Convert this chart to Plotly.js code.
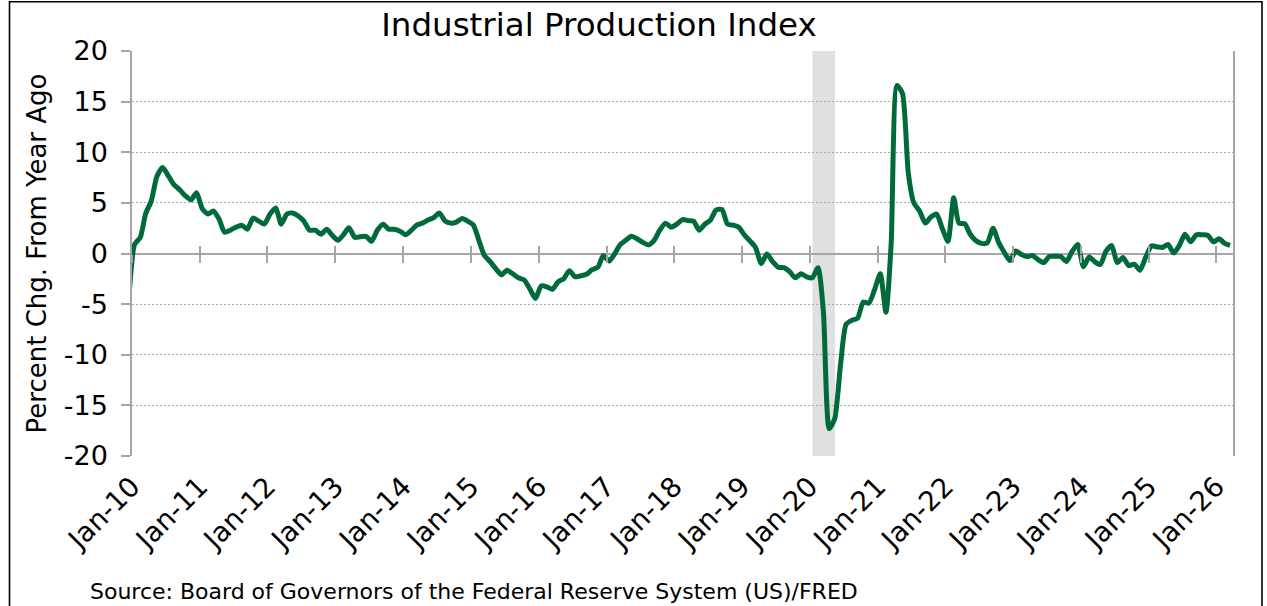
<!DOCTYPE html>
<html>
<head>
<meta charset="utf-8">
<script src="https://cdn.plot.ly/plotly-3.0.1.min.js"></script>
<style>
  html, body { margin: 0; padding: 0; background: #ffffff; }
  #chart { width: 1267px; height: 606px; }
</style>
</head>
<body>
<div id="chart"></div>
<script>
// ---- Data: Industrial Production Index, percent change from year ago (monthly) ----
const firstYear = 2009;      // first observation: Dec 2009 (clipped by the axis start)
const firstMonth = 12;
const yoyDec2009 = [-4.5];
const yoy2010 = [0.9, 1.6, 3.9, 5.2, 7.6, 8.5, 7.7, 6.8, 6.3, 5.7, 5.3, 6.0];
const yoy2011 = [4.4, 3.9, 4.2, 3.4, 2.1, 2.3, 2.6, 2.8, 2.4, 3.5, 3.2, 2.9];
const yoy2012 = [3.9, 4.5, 2.9, 3.9, 4.0, 3.7, 3.2, 2.3, 2.3, 1.9, 2.4, 1.8];
const yoy2013 = [1.3, 1.9, 2.55, 1.6, 1.65, 1.7, 1.2, 2.3, 2.9, 2.4, 2.4, 2.2];
const yoy2014 = [1.85, 2.3, 2.8, 3.0, 3.3, 3.55, 4.0, 3.2, 3.0, 3.1, 3.45, 3.2];
const yoy2015 = [2.8, 1.2, -0.2, -0.8, -1.5, -2.1, -1.65, -2.0, -2.4, -2.6, -3.5, -4.45];
const yoy2016 = [-3.2, -3.3, -3.55, -2.8, -2.5, -1.7, -2.3, -2.2, -2.05, -1.6, -1.35, -0.2];
const yoy2017 = [-0.75, 0.0, 0.85, 1.3, 1.7, 1.45, 1.1, 0.85, 1.3, 2.3, 3.0, 2.6];
const yoy2018 = [2.9, 3.35, 3.25, 3.2, 2.3, 2.9, 3.3, 4.3, 4.35, 2.9, 2.8, 2.6];
const yoy2019 = [1.8, 1.2, 0.6, -1.0, -0.05, -0.8, -1.35, -1.4, -1.8, -2.4, -2.0, -2.3];
const yoy2020 = [-2.4, -1.4, -5.8, -17.3, -16.3, -11.0, -7.0, -6.6, -6.4, -4.8, -4.9, -3.6];
const yoy2021 = [-2.0, -5.8, 1.0, 16.6, 15.8, 8.0, 5.0, 4.2, 3.0, 3.6, 3.9, 2.5];
const yoy2022 = [1.2, 5.5, 3.0, 2.95, 1.9, 1.25, 1.0, 1.05, 2.5, 1.1, 0.1, -0.7];
const yoy2023 = [0.26, -0.1, -0.3, -0.2, -0.6, -0.9, -0.3, -0.27, -0.3, -0.8, 0.2, 0.9];
const yoy2024 = [-1.3, -0.35, -0.8, -1.1, 0.2, 0.8, -0.9, -0.4, -1.2, -1.05, -1.65, -0.4];
const yoy2025 = [0.75, 0.65, 0.6, 0.9, 0.05, 0.8, 1.9, 1.15, 1.85, 1.85, 1.8, 1.15];
const yoy2026 = [1.45, 1.0, 0.8];

const tickYears  = [2010,2011,2012,2013,2014,2015,2016,2017,2018,2019,2020,2021,2022,2023,2024,2025,2026];
const tickLabels = ['Jan-10','Jan-11','Jan-12','Jan-13','Jan-14','Jan-15','Jan-16','Jan-17','Jan-18','Jan-19','Jan-20','Jan-21','Jan-22','Jan-23','Jan-24','Jan-25','Jan-26'];
const yTicks      = [-20, -15, -10, -5, 0, 5, 10, 15, 20];
const yTickLabels = ['-20', '-15', '-10', '-5', '0', '5', '10', '15', '20'];

const recessionStart = '2020-01-16';
const recessionEnd   = '2020-05-16';

const titleText  = 'Industrial Production Index';
const yTitleText = 'Percent Chg. From Year Ago';
const sourceText = 'Source: Board of Governors of the Federal Reserve System (US)/FRED';

// ---- Build series ----
const values = [].concat(yoyDec2009, yoy2010, yoy2011, yoy2012, yoy2013, yoy2014, yoy2015,
  yoy2016, yoy2017, yoy2018, yoy2019, yoy2020, yoy2021, yoy2022, yoy2023, yoy2024, yoy2025, yoy2026);
const pad = n => (n < 10 ? '0' : '') + n;
const dates = values.map((v, i) => {
  const k = (firstMonth - 1) + i;
  const yr = firstYear + Math.floor(k / 12);
  const mo = (k % 12) + 1;
  return yr + '-' + pad(mo) + '-15';
});
const tickVals = tickYears.map(y => y + '-01-01');
const xRange = ['2010-01-01', '2026-03-31'];

const FONT = 'DejaVu Sans, Verdana, sans-serif';
const GRID = '#a6a6a6';

const traces = [
  { x: dates, y: values, type: 'scatter', mode: 'lines',
    line: { color: '#006a3a', width: 5, shape: 'spline', smoothing: 0.6 },
    hoverinfo: 'x+y', showlegend: false },
  { x: [], y: [], xaxis: 'x2', yaxis: 'y', type: 'scatter', showlegend: false, hoverinfo: 'skip' },
  { x: [], y: [], xaxis: 'x3', yaxis: 'y', type: 'scatter', showlegend: false, hoverinfo: 'skip' }
];

const tickAxisBase = {
  type: 'date', range: xRange, overlaying: 'x', anchor: 'free', position: 0.5,
  tickmode: 'array', tickvals: tickVals, showticklabels: false,
  ticklen: 8, tickwidth: 1.5, tickcolor: GRID,
  showline: false, showgrid: false, zeroline: false, fixedrange: true
};

const layout = {
  width: 1267, height: 606,
  margin: { l: 132, r: 34, t: 51, b: 150, pad: 0 },
  paper_bgcolor: '#ffffff', plot_bgcolor: '#ffffff',
  font: { family: FONT, color: '#000000' },
  title: { text: titleText, font: { family: FONT, size: 32.5, color: '#000000' },
           xref: 'container', x: 599 / 1267, xanchor: 'center',
           yref: 'container', y: 1 - 25 / 606, yanchor: 'middle' },
  xaxis: {
    type: 'date', range: xRange, domain: [0, 1],
    tickmode: 'array', tickvals: tickVals, ticktext: tickLabels,
    tickangle: -45, ticks: '', ticklabelstandoff: 8, showgrid: false, showline: false, zeroline: false,
    tickfont: { family: FONT, size: 27.5, color: '#000000' }, automargin: false, fixedrange: true
  },
  xaxis2: Object.assign({}, tickAxisBase, { ticks: 'outside' }),
  xaxis3: Object.assign({}, tickAxisBase, { ticks: 'inside' }),
  yaxis: {
    range: [-20, 20], tickmode: 'array', tickvals: yTicks, ticktext: yTickLabels,
    ticks: 'outside', ticklen: 9, tickwidth: 1.5, tickcolor: GRID, ticklabelstandoff: 8,
    showline: true, linecolor: GRID, linewidth: 1.5, mirror: true,
    showgrid: true, gridcolor: '#a8a8a8', gridwidth: 1, griddash: '2px,2px',
    zeroline: true, zerolinecolor: GRID, zerolinewidth: 1.8,
    tickfont: { family: FONT, size: 27, color: '#000000' },
    title: { text: yTitleText, font: { family: FONT, size: 26, color: '#000000' }, standoff: 10 },
    automargin: false, fixedrange: true
  },
  shapes: [
    { type: 'rect', xref: 'x', yref: 'y', x0: recessionStart, x1: recessionEnd, y0: -20, y1: 20,
      fillcolor: '#e0e0e0', line: { width: 0 }, layer: 'below' },
    { type: 'rect', xref: 'paper', yref: 'paper',
      x0: (9.5 - 132) / 1101, x1: (1262 - 132) / 1101,
      y0: (455 - 612) / 405, y1: (455 - 0.8) / 405,
      line: { color: '#000000', width: 1.6 }, fillcolor: 'rgba(0,0,0,0)', layer: 'above' }
  ],
  annotations: [
    { text: sourceText, xref: 'paper', yref: 'paper',
      x: (88 - 132) / 1101, xanchor: 'left', y: (455 - 590) / 405, yanchor: 'middle',
      showarrow: false, font: { family: FONT, size: 22, color: '#000000' } }
  ],
  showlegend: false
};

Plotly.newPlot('chart', traces, layout, { displayModeBar: false, staticPlot: false, responsive: false });
</script>
</body>
</html>
